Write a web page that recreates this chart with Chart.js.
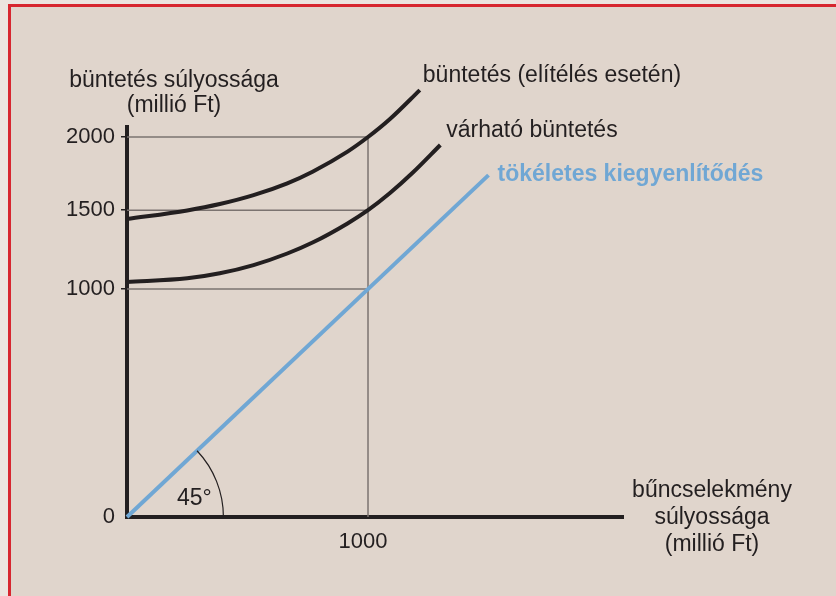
<!DOCTYPE html>
<html lang="hu">
<head>
<meta charset="utf-8">
<title>Büntetés súlyossága</title>
<script src="https://cdn.jsdelivr.net/npm/chart.js@4.4.1/dist/chart.umd.min.js"></script>
<style>
    html, body { margin: 0; padding: 0; background: #ece4df; }
    #frame { position: relative; width: 836px; height: 596px; overflow: hidden; }
    #panel {
        position: absolute; left: 8px; top: 4px; right: 0; bottom: 0;
        background: #e0d5cc;
        border-left: 3px solid #d7262f;
        border-top: 3px solid #d7262f;
    }
    #chart { position: absolute; left: 0; top: 0; }
</style>
</head>
<body>
<div id="frame">
    <div id="panel"></div>
    <canvas id="chart" width="836" height="596"></canvas>
</div>
<script>
// Values (y in drawing units, the upper ticks are not to scale)
const penaltyX = [0, 250, 385, 525, 665, 770, 915, 1000, 1090, 1215];
const penaltyY = [1307, 1345, 1373, 1412, 1464, 1515, 1603, 1667, 1745, 1873];
const expectedX = [0, 250, 385, 525, 665, 770, 915, 1000, 1090, 1185, 1300];
const expectedY = [1031, 1047, 1069, 1105, 1156, 1204, 1288, 1346, 1420, 1510, 1632];
const equalX = [0, 1500];
const equalY = [0, 1500];

const xTickValues = [1000];
const xTickLabels = ['1000'];
const yTickValues = [0, 1000, 1346, 1667];
const yTickLabels = ['0', '1000', '1500', '2000'];
const refX = 1000;
const arcRadius = 400;

const INK = '#231f20';
const GUIDE = '#7b7370';
const BLUE = '#70a7d4';
const FONT = "'Liberation Sans', Arial, Helvetica, sans-serif";

Chart.defaults.font.family = FONT;

function pts(xs, ys) {
    return xs.map((x, i) => ({ x: x, y: ys[i] }));
}

function guideSet(data) {
    return {
        data: data,
        borderColor: GUIDE,
        borderWidth: 1.5,
        pointRadius: 0,
        order: 5,
        clip: false
    };
}

const guides = yTickValues.slice(1).map(v => guideSet([{ x: 0, y: v }, { x: refX, y: v }]));
guides.push(guideSet([{ x: refX, y: 0 }, { x: refX, y: Math.max(...yTickValues) }]));

const labelsPlugin = {
    id: 'labels',
    afterDatasetsDraw(chart) {
        const ctx = chart.ctx;
        const xs = chart.scales.x;
        const ys = chart.scales.y;
        const area = chart.chartArea;
        const ox = xs.getPixelForValue(0);
        const oy = ys.getPixelForValue(0);

        // 45 degree arc
        const r = xs.getPixelForValue(arcRadius) - ox;
        const ex = xs.getPixelForValue(equalX[1]);
        const ey = ys.getPixelForValue(equalY[1]);
        const ang = Math.atan2(oy - ey, ex - ox);
        ctx.save();
        ctx.strokeStyle = INK;
        ctx.lineWidth = 1.2;
        ctx.beginPath();
        ctx.arc(ox, oy, r, -ang, 0);
        ctx.stroke();

        ctx.fillStyle = INK;
        ctx.font = '23px ' + FONT;
        ctx.textBaseline = 'alphabetic';
        ctx.textAlign = 'left';
        ctx.fillText('45°', ox + 50, oy - 12);

        // curve labels
        const px = xs.getPixelForValue(penaltyX[penaltyX.length - 1]);
        const py = ys.getPixelForValue(penaltyY[penaltyY.length - 1]);
        ctx.fillText('büntetés (elítélés esetén)', px + 3, py - 8);
        const qx = xs.getPixelForValue(expectedX[expectedX.length - 1]);
        const qy = ys.getPixelForValue(expectedY[expectedY.length - 1]);
        ctx.fillText('várható büntetés', qx + 6, qy - 8);
        ctx.fillStyle = BLUE;
        ctx.font = 'bold 23px ' + FONT;
        ctx.fillText('tökéletes kiegyenlítődés', ex + 9, ey + 6);

        // axis titles
        ctx.fillStyle = INK;
        ctx.font = '23px ' + FONT;
        ctx.textAlign = 'center';
        ctx.fillText('büntetés súlyossága', area.left + 47, 87);
        ctx.fillText('(millió Ft)', area.left + 47, 112);
        const tx = area.right + 89;
        ctx.fillText('bűncselekmény', tx, oy - 20);
        ctx.fillText('súlyossága', tx, oy + 7);
        ctx.fillText('(millió Ft)', tx, oy + 34);
        ctx.restore();
    }
};

new Chart(document.getElementById('chart'), {
    type: 'line',
    data: {
        datasets: [
            {
                label: 'büntetés (elítélés esetén)',
                data: pts(penaltyX, penaltyY),
                borderColor: INK,
                borderWidth: 4,
                pointRadius: 0,
                cubicInterpolationMode: 'monotone',
                order: 0,
                clip: false
            },
            {
                label: 'várható büntetés',
                data: pts(expectedX, expectedY),
                borderColor: INK,
                borderWidth: 4,
                pointRadius: 0,
                cubicInterpolationMode: 'monotone',
                order: 0,
                clip: false
            },
            {
                label: 'tökéletes kiegyenlítődés',
                data: pts(equalX, equalY),
                borderColor: BLUE,
                borderWidth: 4,
                pointRadius: 0,
                order: 1,
                clip: false
            },
            ...guides
        ]
    },
    options: {
        responsive: false,
        animation: false,
        events: [],
        layout: {
            padding: { left: 0, top: 127, right: 213, bottom: 39 }
        },
        plugins: {
            legend: { display: false },
            tooltip: { enabled: false }
        },
        scales: {
            x: {
                type: 'linear',
                min: 0,
                max: 2058,
                afterBuildTicks: s => { s.ticks = xTickValues.map(v => ({ value: v })); },
                afterFit: s => { s.height = 40; },
                ticks: {
                    callback: (v, i) => xTickLabels[i],
                    color: INK,
                    font: { size: 22 },
                    padding: 12,
                    labelOffset: -5,
                    autoSkip: false,
                    maxRotation: 0
                },
                grid: { display: false, drawTicks: false },
                border: { display: true, width: 4, color: INK }
            },
            y: {
                type: 'linear',
                min: 0,
                max: 1711,
                afterBuildTicks: s => { s.ticks = yTickValues.map(v => ({ value: v })); },
                afterFit: s => { s.width = 127; },
                ticks: {
                    callback: (v, i) => yTickLabels[i],
                    color: INK,
                    font: { size: 22 },
                    padding: 6,
                    autoSkip: false
                },
                grid: {
                    drawOnChartArea: false,
                    drawTicks: true,
                    tickLength: 6,
                    lineWidth: 1.5,
                    color: c => (c.tick && c.tick.value > 0 ? INK : 'rgba(0,0,0,0)')
                },
                border: { display: true, width: 4, color: INK }
            }
        }
    },
    plugins: [labelsPlugin]
});
</script>
</body>
</html>
